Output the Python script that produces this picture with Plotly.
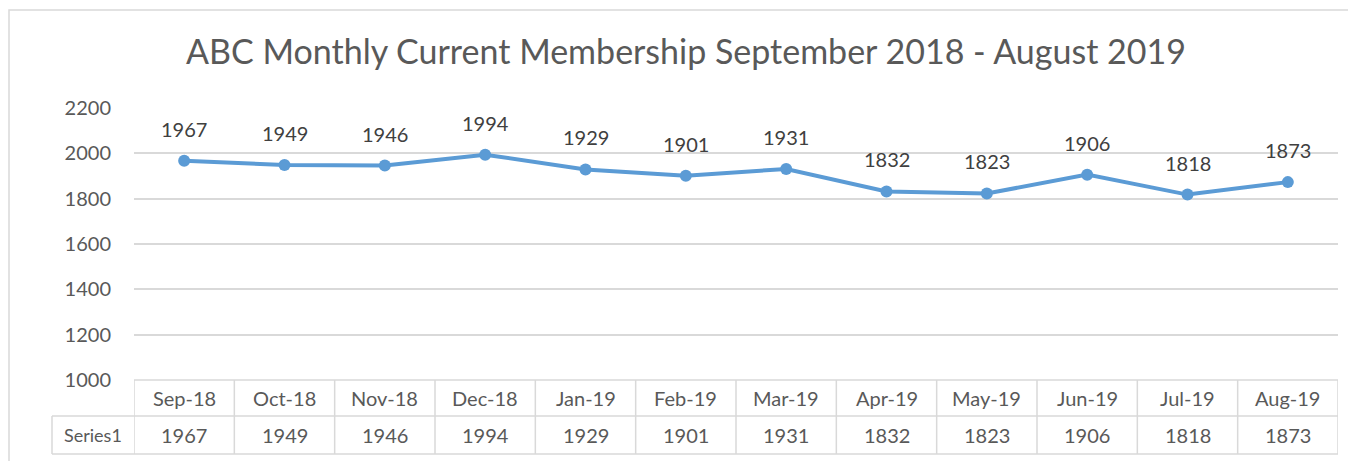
import plotly.graph_objects as go

categories = ["Sep-18", "Oct-18", "Nov-18", "Dec-18", "Jan-19", "Feb-19",
              "Mar-19", "Apr-19", "May-19", "Jun-19", "Jul-19", "Aug-19"]
values = [1967, 1949, 1946, 1994, 1929, 1901, 1931, 1832, 1823, 1906, 1818, 1873]
series_name = "Series1"
title_text = "ABC Monthly Current Membership September 2018 - August 2019"
y_ticks = [1000, 1200, 1400, 1600, 1800, 2000, 2200]

OFF = 8  # page body margin
W, H = 1356 - OFF, 461 - OFF
L, R, T, B = 134 - OFF, 18, 108 - OFF, 81
PW, PH = W - L - R, H - T - B


def px_x(p):
    return (p - OFF - L) / PW


def px_y(p):
    return (H - B - (p - OFF)) / PH


FONT = "Lato"
TXT = "#595959"
GRID = "#d9d9d9"
LINE = "#5b9bd5"

idx = list(range(len(categories)))

fig = go.Figure()
fig.add_trace(go.Scatter(
    x=idx, y=values, mode="lines+markers",
    line=dict(color=LINE, width=4),
    marker=dict(color=LINE, size=12),
    name=series_name, showlegend=False, hoverinfo="skip",
))

annotations = []
for i, v in zip(idx, values):
    annotations.append(dict(x=i, y=v, xref="x", yref="y", text=str(v),
                            showarrow=False, yshift=32, xanchor="center", yanchor="middle",
                            font=dict(family=FONT, size=20, color="#404040")))

row1_top, row1_bot, row2_bot = 380, 416, 454
tbl_left = 52
for i, c in enumerate(categories):
    annotations.append(dict(x=i, y=px_y((row1_top + row1_bot) / 2), xref="x", yref="paper",
                            text=c, showarrow=False, xanchor="center", yanchor="middle",
                            font=dict(family=FONT, size=20, color=TXT)))
    annotations.append(dict(x=i, y=px_y((row1_bot + row2_bot) / 2), xref="x", yref="paper",
                            text=str(values[i]), showarrow=False, xanchor="center", yanchor="middle",
                            font=dict(family=FONT, size=20, color=TXT)))
annotations.append(dict(x=px_x((tbl_left + 134) / 2), y=px_y((row1_bot + row2_bot) / 2),
                        xref="paper", yref="paper", text=series_name, showarrow=False,
                        xanchor="center", yanchor="middle",
                        font=dict(family=FONT, size=18, color=TXT)))

shapes = []
lw = dict(color=GRID, width=1.5)
shapes.append(dict(type="line", xref="paper", yref="paper", x0=0, x1=1,
                   y0=px_y(row1_top), y1=px_y(row1_top), line=lw))
for yy in (row1_bot, row2_bot):
    shapes.append(dict(type="line", xref="paper", yref="paper", x0=px_x(tbl_left), x1=1,
                       y0=px_y(yy), y1=px_y(yy), line=lw))
for k in range(len(categories) + 1):
    shapes.append(dict(type="line", xref="x", yref="paper", x0=k - 0.5, x1=k - 0.5,
                       y0=px_y(row1_top), y1=px_y(row2_bot), line=lw))
shapes.append(dict(type="line", xref="paper", yref="paper", x0=px_x(tbl_left), x1=px_x(tbl_left),
                   y0=px_y(row1_bot), y1=px_y(row2_bot), line=lw))
shapes.append(dict(type="rect", xref="paper", yref="paper", x0=px_x(9), x1=px_x(1370),
                   y0=px_y(480), y1=px_y(10), line=dict(color="#d9d9d9", width=1.5),
                   fillcolor="rgba(0,0,0,0)", layer="below"))

fig.update_layout(
    width=W, height=H,
    margin=dict(l=L, r=R, t=T, b=B, pad=0),
    paper_bgcolor="white", plot_bgcolor="white",
    title=dict(text=title_text, x=(686 - OFF) / W, xanchor="center",
               y=1 - (52 - OFF) / H, yanchor="middle",
               xref="container", yref="container",
               font=dict(family=FONT, size=34, color=TXT)),
    xaxis=dict(range=[-0.5, len(categories) - 0.5], showticklabels=False, showgrid=False,
               zeroline=False, showline=False, ticks=""),
    yaxis=dict(range=[1000, 2200], tickvals=y_ticks, showgrid=True, gridcolor=GRID, gridwidth=1.5,
               zeroline=False, showline=False, ticks="", ticklabelstandoff=22,
               tickfont=dict(family=FONT, size=20, color=TXT)),
    annotations=annotations, shapes=shapes,
    font=dict(family=FONT),
)

fig.write_html("out.html")
